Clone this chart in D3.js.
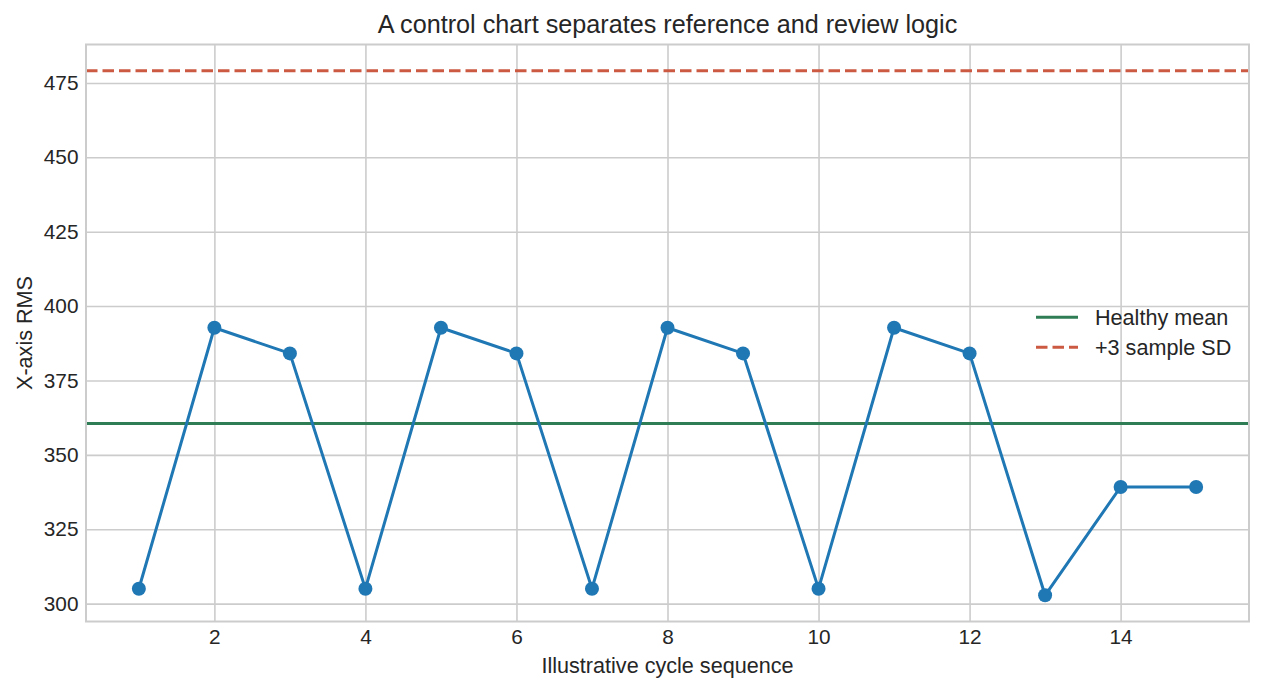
<!DOCTYPE html>
<html>
<head>
<meta charset="utf-8">
<script src="https://cdn.jsdelivr.net/npm/d3@7"></script>
<style>
  body { margin: 0; background: #fff; }
  text { font-family: "Liberation Sans", Arial, sans-serif; fill: #262626; }
</style>
</head>
<body>
<div id="chart"></div>
<script>
/* data */
var cycles = [1, 2, 3, 4, 5, 6, 7, 8, 9, 10, 11, 12, 13, 14, 15];
var rmsValues = [305, 392.7, 384.1, 305, 392.7, 384.1, 305, 392.7, 384.1, 305, 392.7, 384.1, 302.8, 339.2, 339.2];
var healthyMean = 360.5;
var upperLimit = 479.1;
var xTicks = [2, 4, 6, 8, 10, 12, 14];
var yTicks = [300, 325, 350, 375, 400, 425, 450, 475];
var legendLabels = ["Healthy mean", "+3 sample SD"];

var W = 1263, H = 692;
var margin = { top: 44.5, right: 14, bottom: 70.5, left: 86 };
var width = W - margin.left - margin.right,
  height = H - margin.top - margin.bottom;

var fontTick = "20.8px";
var fontLabel = "21.6px";

var svg = d3.select("#chart").append("svg")
  .attr("width", W)
  .attr("height", H);

var g = svg.append("g")
  .attr("transform", "translate(" + margin.left + "," + margin.top + ")");

/* matplotlib style 5% margins */
var xMin = d3.min(cycles), xMax = d3.max(cycles);
var xPad = (xMax - xMin) * 0.05;
var x = d3.scaleLinear().domain([xMin - xPad, xMax + xPad]).range([0, width]);

var yLo = Math.min(d3.min(rmsValues), healthyMean), yHi = Math.max(d3.max(rmsValues), upperLimit);
var yPad = (yHi - yLo) * 0.05;
var y = d3.scaleLinear().domain([yLo - yPad, yHi + yPad]).range([height, 0]);

/* grid */
g.append("g")
  .attr("class", "grid")
  .attr("transform", "translate(0," + height + ")")
  .call(d3.axisBottom(x).tickValues(xTicks).tickSize(-height).tickFormat(""))
  .call(function(s) { s.select(".domain").remove(); })
  .selectAll("line").attr("stroke", "#cccccc").attr("stroke-width", 1.6);

g.append("g")
  .attr("class", "grid")
  .call(d3.axisLeft(y).tickValues(yTicks).tickSize(-width).tickFormat(""))
  .call(function(s) { s.select(".domain").remove(); })
  .selectAll("line").attr("stroke", "#cccccc").attr("stroke-width", 1.6);

/* tick labels */
var xAxis = g.append("g")
  .attr("transform", "translate(0," + height + ")")
  .call(d3.axisBottom(x).tickValues(xTicks).tickSize(0).tickPadding(8));
xAxis.select(".domain").remove();
xAxis.selectAll("text").style("font-size", fontTick).attr("fill", "#262626");

var yAxis = g.append("g")
  .call(d3.axisLeft(y).tickValues(yTicks).tickSize(0).tickPadding(7.5));
yAxis.select(".domain").remove();
yAxis.selectAll("text").style("font-size", fontTick).attr("fill", "#262626");

/* reference lines */
g.append("line")
  .attr("x1", 0).attr("x2", width)
  .attr("y1", y(healthyMean)).attr("y2", y(healthyMean))
  .attr("stroke", "#2e7d55").attr("stroke-width", 3);

g.append("line")
  .attr("x1", 0).attr("x2", width)
  .attr("y1", y(upperLimit)).attr("y2", y(upperLimit))
  .attr("stroke", "#cc5a43").attr("stroke-width", 3)
  .attr("stroke-dasharray", "11.5,5");

/* series */
var line = d3.line()
  .x(function(d, i) { return x(cycles[i]); })
  .y(function(d) { return y(d); });

g.append("path")
  .datum(rmsValues)
  .attr("fill", "none")
  .attr("stroke", "#1f77b4")
  .attr("stroke-width", 3)
  .attr("d", line);

g.selectAll(".dot")
  .data(rmsValues)
  .enter().append("circle")
  .attr("class", "dot")
  .attr("cx", function(d, i) { return x(cycles[i]); })
  .attr("cy", function(d) { return y(d); })
  .attr("r", 7)
  .attr("fill", "#1f77b4");

/* frame */
g.append("rect")
  .attr("width", width).attr("height", height)
  .attr("fill", "none").attr("stroke", "#cccccc").attr("stroke-width", 2);

/* legend */
var legend = g.append("g")
  .attr("transform", "translate(" + (1036 - margin.left) + "," + (317.3 - margin.top) + ")");
legendLabels.forEach(function(lab, i) {
  var row = legend.append("g").attr("transform", "translate(0," + (i * 30) + ")");
  row.append("line")
    .attr("x1", 0).attr("x2", 42)
    .attr("stroke", i === 0 ? "#2e7d55" : "#cc5a43")
    .attr("stroke-width", 3)
    .attr("stroke-dasharray", i === 0 ? null : "11.5,5");
  row.append("text")
    .attr("x", 59).attr("dy", "0.35em")
    .style("font-size", fontLabel)
    .text(lab);
});

/* titles */
svg.append("text")
  .attr("x", margin.left + width / 2).attr("y", 32.5)
  .attr("text-anchor", "middle")
  .style("font-size", "25.2px")
  .text("A control chart separates reference and review logic");

svg.append("text")
  .attr("x", margin.left + width / 2).attr("y", 673)
  .attr("text-anchor", "middle")
  .style("font-size", fontLabel)
  .text("Illustrative cycle sequence");

svg.append("text")
  .attr("transform", "translate(31.5," + (margin.top + height / 2) + ") rotate(-90)")
  .attr("text-anchor", "middle")
  .style("font-size", fontLabel)
  .text("X-axis RMS");
</script>
</body>
</html>
